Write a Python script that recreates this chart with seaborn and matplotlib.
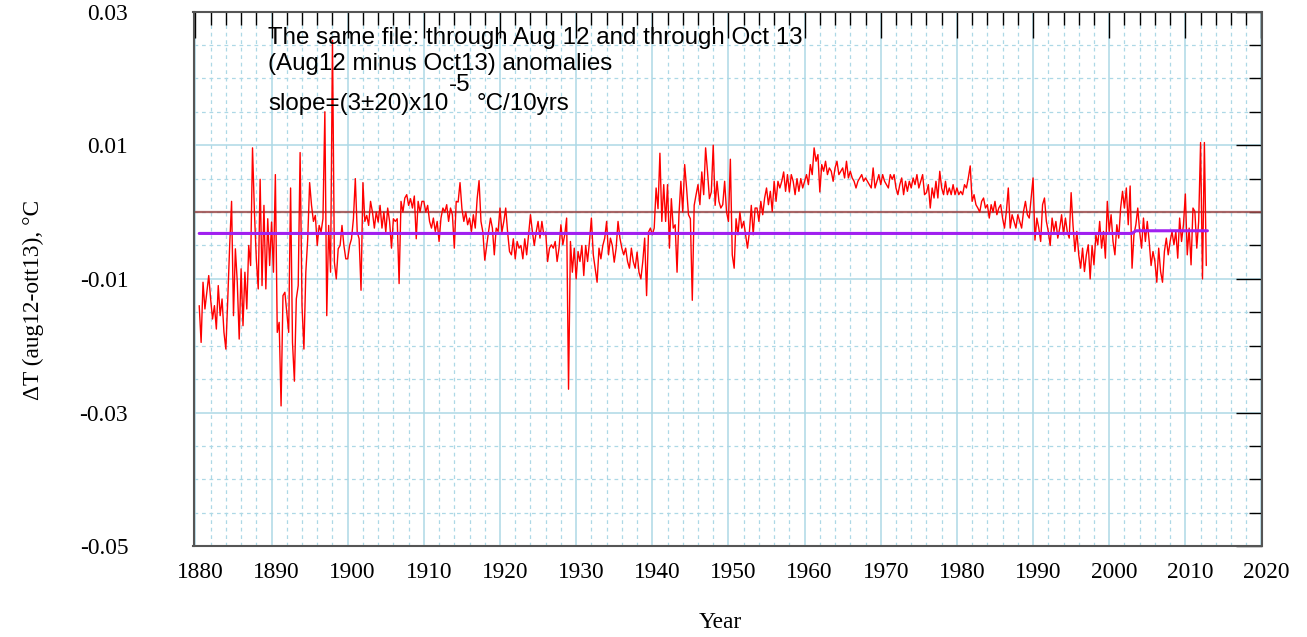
import numpy as np
import seaborn as sns
import matplotlib.pyplot as plt
from matplotlib.ticker import MultipleLocator, FixedLocator, FuncFormatter
from matplotlib.transforms import ScaledTranslation

# quarterly readings of the difference, in thousandths of a degree C
# the 1880s list starts at 1880.5, every other list starts at its decade
d1880s = [-14, -19.5, -10.5, -14.5, -12, -9.5, -13, -16, -14, -17.5, -11, -15.5, -13,
          -18, -20.5, -13, -5, 1.6, -15.5, -5.5, -10.5, -19, -8.5, -17, -9, -14.5,
          -5, -8, 9.6, 0, -7, -11.5, 4.9, -11, 1, -11.5, -1, -8]
d1890s = [-1.5, -9, 5.6, -18, -16.5, -29, -12.5, -12, -15, -18, 3.6, -19.5, -25.3, -13,
          -11, 8.9, -14, -20.5, -9, -4, 4.4, 1, -1.4, -0.5, -5, -2, -3, -1, 15, -15.5,
          -2, -9, 25.7, -7.5, -10, -5.5, -5, -2, -5, -7]
d1900s = [-7, -5, -4, -1, 5, -3, -4, -11.7, 4.4, -1.4, -0.5, -2, 1.6, 0, -2.4, 0,
          -1.5, 1, -2.4, 0, -3, 0.6, -1.4, -5.4, -1, -1.4, -1, -10.7, 1.6, 0, 2.1, 2.6,
          1, 2, 0.6, 2.4, -4, 1.6, 0, 1.6]
d1910s = [1.6, 0, 1, -1.4, -2.4, -0.9, -2.9, -1.4, -4.4, -0.9, 0.6, 0, 1.1, -1.4, 0.6,
          -0.4, -5.4, 1.6, 1.5, 4.4, 0.5, -1.4, 0, -1.9, -0.9, -2.9, -0.4, -2.4, 2, 4.7,
          -1.4, -3, -7.2, -5, -2.9, -0.9, -2.4, -6.4, -2.4, -2.9]
d1920s = [0.6, -3, -1.4, 0.6, -3, -5.9, -6.4, -4, -7, -4.4, -5.4, -5, -7, -4, -6.4,
          -3.4, -0.4, -2.9, -5, -3, -1.4, -3.9, -1.4, -3.4, -3, -7.4, -5.4, -4.9, -5.4,
          -4.4, -7.4, -5.4, -1.9, -4.9, -3.4, -0.9, -26.5, -4.4, -9, -5.4]
d1930s = [-10, -5.9, -7.4, -5, -9.5, -5, -7.4, -4.4, -0.9, -6.4, -8.4, -10.5, -5.4, -7,
          -5, -3.9, -1.4, -6.4, -3.9, -5, -7.5, -5.4, -1.4, -3.9, -5.4, -6.4, -5.4, -7.4,
          -8.4, -5.4, -7.4, -8.4, -6, -9, -10, -7.4, -3.9, -12.5, -3, -2.4]
d1940s = [-3.4, -2.4, 3.6, 0.5, 8.8, -1.4, 4.1, -1.4, 4.1, -5.4, 2, -2.4, -1.9, -9, -0.4,
          4.6, 0, 7.1, 3.6, -0.4, -1, -13.2, 1, 2.6, 4.1, 1.1, 6, 2.6, 9.6, 6, 2, 3, 10,
          1, 4.6, 1.6, 0.6, 1.1, 4.6, 0]
d1950s = [-1.4, 7.9, -6.4, -8.4, -1, -3.4, 0, -2.4, -1.4, -3.4, -5.4, -3, 1, -3.4, 0.6,
          0.6, -1.4, 1.6, -0.4, 2.1, 3.6, 1.1, 3.1, 0.1, 4.6, 1.6, 4.6, 3.6, 4.6, 6, 3.1,
          5.6, 3, 5.6, 4.6, 2.6, 5, 3.1, 5, 3.6]
d1960s = [4.6, 5.6, 4.1, 7.1, 5.6, 9.6, 7.6, 8.6, 3, 7.1, 6.1, 7.6, 5.6, 6.6, 6.1, 4.6,
          6.6, 7.6, 5.6, 6.1, 6.6, 5.1, 7.6, 5.1, 6.1, 5.1, 4.6, 3.6, 4.6, 5.1, 5.6, 4.6,
          5.1, 4.6, 4.1, 3.6, 6.6, 3.6, 4.6, 5.6]
d1970s = [4.1, 5.6, 4.6, 4.1, 3.6, 5.6, 4.9, 5.6, 3.6, 2.6, 4.1, 5.1, 2.6, 4.6, 3.1, 4.6,
          3.6, 5.1, 4.1, 5.6, 3.6, 4.6, 5.6, 2.6, 2.9, 4.1, 0.6, 3.6, 2.1, 4.6, 2.1, 6.1,
          3.6, 2.6, 4.6, 2.6, 3.6, 2.6, 4.1, 2.6]
d1980s = [3.6, 2.6, 3.1, 2.6, 4.1, 3.6, 5.1, 6.9, 1.6, 2.6, 1.1, 0.6, 0, 1.6, 2.1, 0.6,
          1.1, -0.9, 1.1, 0, 1.6, -0.4, 0.6, 1.1, -0.9, -2.4, 0.1, 3.6, -2.4, -0.4, -1.4,
          -2.4, -0.4, -1.4, -2.4, 0.1, 1.6, -0.4, -0.9, 2.1]
d1990s = [5.1, -4.2, -0.9, -2.4, -4.4, 1.1, 2.1, -1.4, -2.9, -5, -0.9, -2.9, -1.4, -3.9,
          -2.4, -0.4, -3.4, -0.9, -3, -3.9, 2.9, -2, -5.9, -2.9, -6.4, -8.4, -5.4, -8.9,
          -6.4, -4.9, -10, -5, -7.9, -3.4, -4.9, -1.4, -5.4, -2.9, -6.9, 1.6]
d2000s = [-2.9, -0.4, -4.4, -6.4, -1.9, -3.9, 0.6, 3.1, 0.6, 3.6, -1.9, 3.9, -8.4, -3.4,
          -1.9, 0.6, -2.9, -5.4, -0.9, -4.4, -1.4, -4.4, -8, -5.9, -7.4, -10.5, -5.4, -8.9,
          -10.5, -5.9, -3.9, -6.4, -4.4, -2.9, -4.9, -2.9, -6.9, -0.9, -4.4, -1.9]
d2010s = [2.7, -6.4, -2.4, -7.9, 0.6, 0.1, -5.4, -1.4, 10.4, -10, 10.4, -8]

decade_starts = [1880.5, 1890, 1900, 1910, 1920, 1930, 1940, 1950, 1960, 1970, 1980, 1990, 2000, 2010]
decades = [d1880s, d1890s, d1900s, d1910s, d1920s, d1930s, d1940s, d1950s, d1960s,
           d1970s, d1980s, d1990s, d2000s, d2010s]

# fitted line (slope ~ 0) as drawn
trend_years = [1880.5, 2003.0, 2003.5, 2012.9]
trend_vals = [-0.0032, -0.0032, -0.0028, -0.0028]

years = np.concatenate([s + 0.25 * np.arange(len(d)) for s, d in zip(decade_starts, decades)])
dT = np.concatenate([np.array(d, dtype=float) for d in decades]) / 1000.0

sns.set_style("white")
plt.rcParams['font.family'] = ['Liberation Serif', 'DejaVu Serif']
plt.rcParams['axes.unicode_minus'] = False
plt.rcParams['text.color'] = 'black'
plt.rcParams['xtick.color'] = 'black'
plt.rcParams['ytick.color'] = 'black'

fig = plt.figure(figsize=(13.07, 6.37), dpi=100)
ax = fig.add_axes([193.5 / 1307, 1 - 546.3 / 637, (1261.5 - 193.5) / 1307, (546.3 - 11.5) / 637])

ax.set_xlim(1879.75, 2020)
ax.set_ylim(-0.05, 0.03)

ax.xaxis.set_major_locator(MultipleLocator(10))
ax.xaxis.set_minor_locator(MultipleLocator(2))
ax.yaxis.set_major_locator(FixedLocator([-0.05, -0.03, -0.01, 0.01, 0.03]))
ax.yaxis.set_minor_locator(MultipleLocator(0.005))
ax.yaxis.set_major_formatter(FuncFormatter(lambda v, p: '%.2f' % v))

ax.grid(which='major', color='#add8e6', lw=1.1, ls='-')
ax.grid(which='minor', color='#add8e6', lw=0.9, ls=(0, (3, 3)))
ax.set_axisbelow(True)

ax.axhline(0, color='#9a4a4a', lw=1.6, alpha=0.85, zorder=2)
sns.lineplot(x=years, y=dT, color='#ff0000', lw=1.0, estimator=None, sort=False, ax=ax, zorder=3)
sns.lineplot(x=trend_years, y=trend_vals, color='#a020f0', lw=2.2, estimator=None,
             sort=False, ax=ax, zorder=4)

ax.set_xlabel('')
ax.set_ylabel('')
ax.tick_params(which='both', direction='in', top=True, right=True,
               color='black', labelcolor='black', labelsize=16.8)
ax.tick_params(which='major', length=19, width=1.0)
ax.tick_params(which='minor', length=9.5, width=1.0)
ax.tick_params(axis='y', which='major', pad=47)
ax.tick_params(axis='x', which='major', pad=11)
for sp in ax.spines.values():
    sp.set_color('#555555')
    sp.set_linewidth(1.5)

shift = ScaledTranslation(5 / 100, 0, fig.dpi_scale_trans)
for lab in ax.get_xticklabels():
    lab.set_transform(lab.get_transform() + shift)

fig.text(33 / 1307, 1 - 300 / 637, 'ΔT (aug12-ott13), °C', rotation=90,
         ha='center', va='center', fontsize=16.8, color='black')
fig.text(720 / 1307, 1 - 622 / 637, 'Year', ha='center', va='center', fontsize=16.8, color='black')

sans = 'Liberation Sans'
fs = 17.4
fig.text(268 / 1307, 1 - 38 / 637, 'The same file: through Aug 12 and through Oct 13',
         ha='left', va='center', fontsize=fs, family=sans, color='black')
fig.text(268 / 1307, 1 - 64 / 637, '(Aug12 minus Oct13) anomalies',
         ha='left', va='center', fontsize=fs, family=sans, color='black')
fig.text(268 / 1307, 1 - 104 / 637, 'slope=(3±20)x10',
         ha='left', va='center', fontsize=fs, family=sans, color='black')
fig.text(449 / 1307, 1 - 85 / 637, '-5', ha='left', va='center', fontsize=fs, family=sans, color='black')
fig.text(477 / 1307, 1 - 104 / 637, '°C/10yrs', ha='left', va='center', fontsize=fs,
         family=sans, color='black')

fig.savefig('out.png', dpi=100)
